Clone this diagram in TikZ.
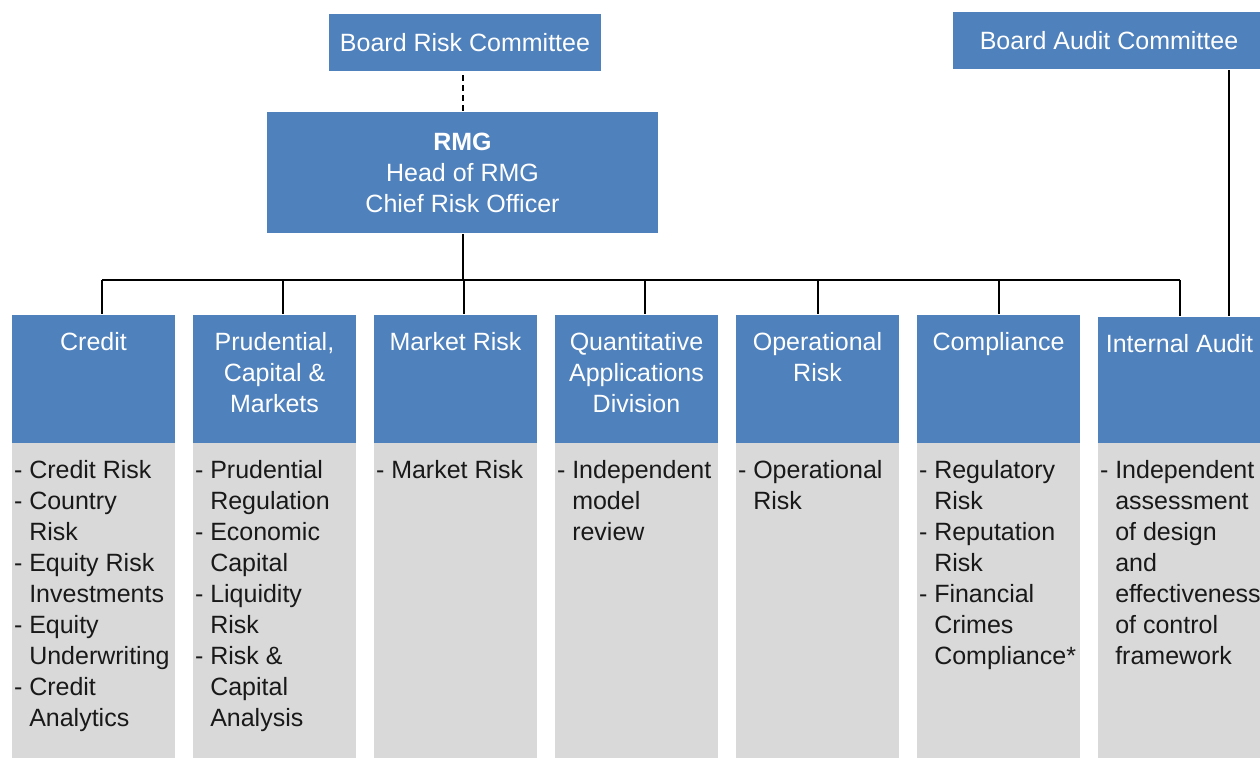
\documentclass[tikz,border=0pt]{standalone}
\usepackage{fontspec}
\setmainfont{Liberation Sans}
\usetikzlibrary{positioning}
\definecolor{blue1}{HTML}{4F81BD}
\definecolor{gray1}{HTML}{D9D9D9}
\newcommand{\headtxt}[1]{\parbox[c][64pt][t]{81.5pt}{\centering\vspace*{8.5pt}#1}}
\newcommand{\listtxt}[1]{\parbox[c][158pt][t]{81.5pt}{\raggedright\leftskip=1pt\hyphenpenalty=10000\vspace*{8.5pt}#1}}
\newcommand{\ind}{\hphantom{- }}

\begin{document}
\begin{tikzpicture}[x=0.5pt,y=-0.5pt,line width=1pt]
  \tikzstyle{every node}=[font=\fontsize{12.5}{15.5}\selectfont]
  \tikzstyle{board}=[fill=blue1,text=white,inner sep=0pt,anchor=north west,minimum height=28.5pt]
  \tikzstyle{head}=[fill=blue1,text=white,inner sep=0pt,anchor=north west]
  \tikzstyle{items}=[fill=gray1,text=black!90,inner sep=0pt,anchor=north west]
  \tikzstyle{link}=[dash pattern=on 3pt off 2pt]
  \useasboundingbox (0,0) rectangle (1260,758);

  \node[board,minimum width=136pt]  (brc)  at (328,13)  {Board Risk Committee};
  \node[board,minimum width=156pt]  (bac)  at (952,11)  {Board Audit Committee};
  \node[head,minimum width=195.5pt,minimum height=60.5pt,align=center]
                                   (rmg)  at (266,111) {\textbf{RMG}\\Head of RMG\\Chief Risk Officer};

  \node[head]  (credit)  at (11,314)   {\headtxt{Credit}};
  \node[head]  (prud)    at (192,314)  {\headtxt{Prudential,\\Capital \&\\Markets}};
  \node[head]  (market)  at (373,314)  {\headtxt{Market Risk}};
  \node[head]  (quant)   at (554,314)  {\headtxt{Quantitative\\Applications\\Division}};
  \node[head]  (oper)    at (735,314)  {\headtxt{Operational\\Risk}};
  \node[head]  (compl)   at (916,314)  {\headtxt{Compliance}};
  \node[head]  (ia)      at (1097,316) {\headtxt{Internal Audit}};

  \node[items] (creditlist) at (11,442)   {\listtxt{- Credit Risk\\- Country\\\ind Risk\\- Equity Risk\\\ind Investments\\- Equity\\\ind Underwriting\\- Credit\\\ind Analytics}};
  \node[items] (prudlist)   at (192,442)  {\listtxt{- Prudential\\\ind Regulation\\- Economic\\\ind Capital\\- Liquidity\\\ind Risk\\- Risk \&\\\ind Capital\\\ind Analysis}};
  \node[items] (marketlist) at (373,442)  {\listtxt{- Market Risk}};
  \node[items] (quantlist)  at (554,442)  {\listtxt{- Independent\\\ind model\\\ind review}};
  \node[items] (operlist)   at (735,442)  {\listtxt{- Operational\\\ind Risk}};
  \node[items] (compllist)  at (916,442)  {\listtxt{- Regulatory\\\ind Risk\\- Reputation\\\ind Risk\\- Financial\\\ind Crimes\\\ind Compliance*}};
  \node[items] (ialist)     at (1097,442) {\listtxt{- Independent\\\ind assessment\\\ind of design\\\ind and\\\ind effectiveness\\\ind of control\\\ind framework}};

  \coordinate (bus) at (rmg.south |- 0,280);
  \coordinate (dcredit) at ([xshift=4.25pt]credit.north);
  \coordinate (dprud)   at ([xshift=4.25pt]prud.north);
  \coordinate (dmarket) at ([xshift=4.25pt]market.north);
  \coordinate (dquant)  at ([xshift=4.25pt]quant.north);
  \coordinate (daudit)  at ([xshift=24.75pt]ia.north);

  \draw[link] (rmg.north) -- (rmg.north |- brc.south);
  \draw (rmg.south) -- (bus);
  \draw (dcredit |- bus) -- (ia.north |- bus);
  \draw (dcredit) -- (dcredit |- bus);
  \draw (dprud)   -- (dprud |- bus);
  \draw (dmarket) -- (dmarket |- bus);
  \draw (dquant)  -- (dquant |- bus);
  \draw (oper.north)  -- (oper.north |- bus);
  \draw (compl.north) -- (compl.north |- bus);
  \draw (ia.north)    -- (ia.north |- bus);
  \draw (daudit) -- (daudit |- bac.south);
\end{tikzpicture}
\end{document}
